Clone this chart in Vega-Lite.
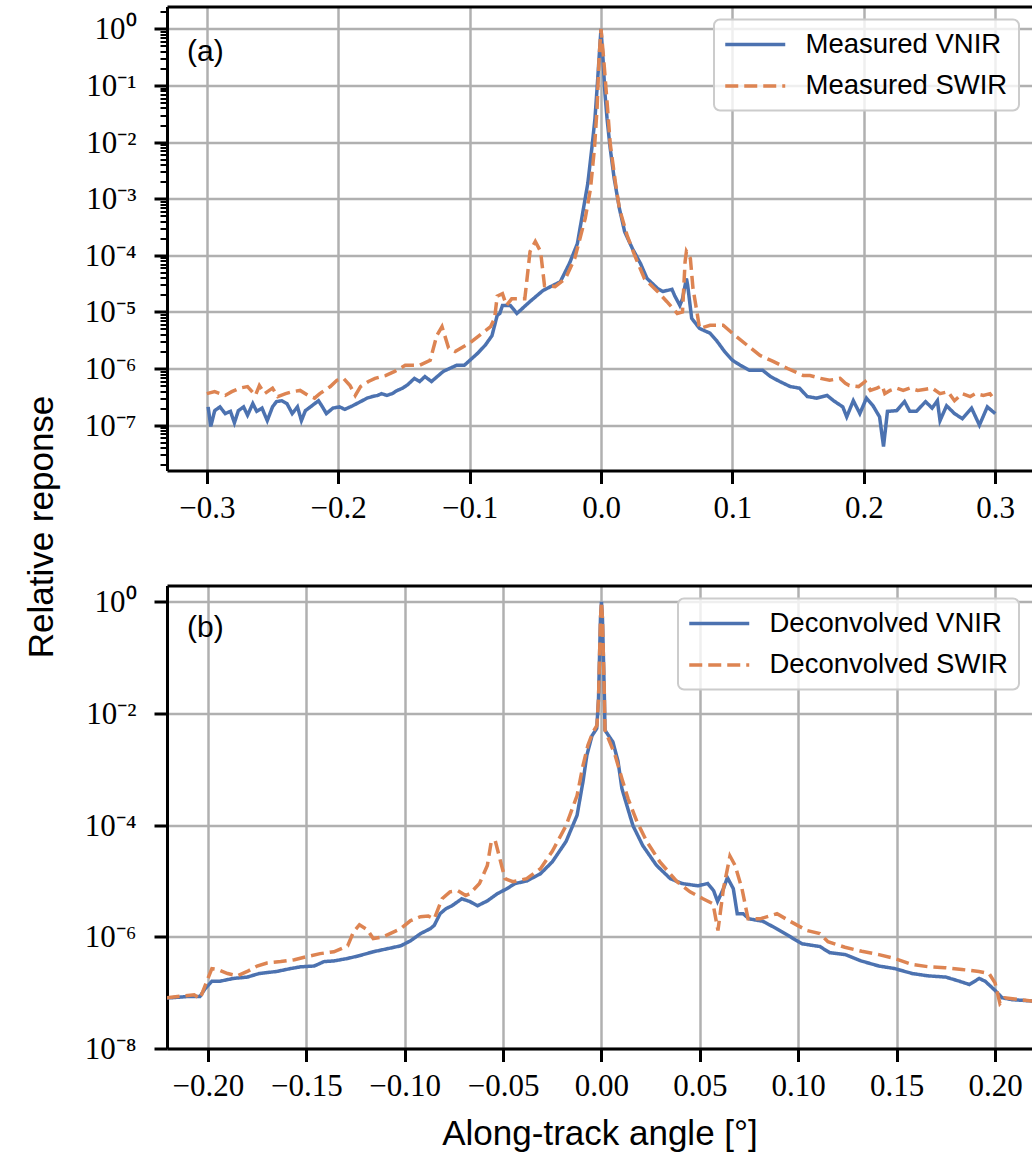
{
 "$schema": "https://vega.github.io/schema/vega-lite/v6.json",
 "padding": {"left": 24, "top": 6.5, "right": 0, "bottom": 0},
 "autosize": {"type": "pad"},
 "bounds": "flush",
 "spacing": 115,
 "background": "white",
 "datasets": {
  "top": [
   {"s":"Measured VNIR","x":-0.299,"v":2.1e-7},{"s":"Measured VNIR","x":-0.297,"v":9.5e-8},{"s":"Measured VNIR","x":-0.294,"v":1.8e-7},{"s":"Measured VNIR","x":-0.290,"v":2.1e-7},{"s":"Measured VNIR","x":-0.286,"v":1.6e-7},{"s":"Measured VNIR","x":-0.282,"v":1.75e-7},{"s":"Measured VNIR","x":-0.279,"v":1.1e-7},{"s":"Measured VNIR","x":-0.276,"v":1.8e-7},{"s":"Measured VNIR","x":-0.272,"v":2.1e-7},{"s":"Measured VNIR","x":-0.269,"v":1.5e-7},{"s":"Measured VNIR","x":-0.265,"v":2.4e-7},{"s":"Measured VNIR","x":-0.262,"v":1.75e-7},{"s":"Measured VNIR","x":-0.258,"v":2.0e-7},{"s":"Measured VNIR","x":-0.254,"v":1.2e-7},{"s":"Measured VNIR","x":-0.250,"v":2.1e-7},{"s":"Measured VNIR","x":-0.247,"v":2.6e-7},{"s":"Measured VNIR","x":-0.243,"v":2.7e-7},{"s":"Measured VNIR","x":-0.239,"v":2.4e-7},{"s":"Measured VNIR","x":-0.235,"v":1.6e-7},{"s":"Measured VNIR","x":-0.231,"v":2.1e-7},{"s":"Measured VNIR","x":-0.228,"v":1.2e-7},{"s":"Measured VNIR","x":-0.225,"v":1.8e-7},{"s":"Measured VNIR","x":-0.220,"v":2.2e-7},{"s":"Measured VNIR","x":-0.215,"v":2.7e-7},{"s":"Measured VNIR","x":-0.212,"v":2.1e-7},{"s":"Measured VNIR","x":-0.209,"v":1.6e-7},{"s":"Measured VNIR","x":-0.204,"v":2.0e-7},{"s":"Measured VNIR","x":-0.199,"v":2.1e-7},{"s":"Measured VNIR","x":-0.195,"v":1.9e-7},{"s":"Measured VNIR","x":-0.189,"v":2.2e-7},{"s":"Measured VNIR","x":-0.183,"v":2.6e-7},{"s":"Measured VNIR","x":-0.178,"v":3.0e-7},{"s":"Measured VNIR","x":-0.174,"v":3.2e-7},{"s":"Measured VNIR","x":-0.170,"v":3.35e-7},{"s":"Measured VNIR","x":-0.167,"v":3.6e-7},{"s":"Measured VNIR","x":-0.163,"v":3.35e-7},{"s":"Measured VNIR","x":-0.159,"v":3.6e-7},{"s":"Measured VNIR","x":-0.155,"v":4.1e-7},{"s":"Measured VNIR","x":-0.151,"v":4.5e-7},{"s":"Measured VNIR","x":-0.147,"v":5.2e-7},{"s":"Measured VNIR","x":-0.142,"v":6.7e-7},{"s":"Measured VNIR","x":-0.138,"v":5.9e-7},{"s":"Measured VNIR","x":-0.134,"v":7.2e-7},{"s":"Measured VNIR","x":-0.129,"v":5.9e-7},{"s":"Measured VNIR","x":-0.120,"v":8.9e-7},{"s":"Measured VNIR","x":-0.110,"v":1.14e-6},{"s":"Measured VNIR","x":-0.104,"v":1.14e-6},{"s":"Measured VNIR","x":-0.094,"v":1.85e-6},{"s":"Measured VNIR","x":-0.088,"v":2.6e-6},{"s":"Measured VNIR","x":-0.083,"v":3.8e-6},{"s":"Measured VNIR","x":-0.079,"v":8.7e-6},{"s":"Measured VNIR","x":-0.077,"v":9.4e-6},{"s":"Measured VNIR","x":-0.075,"v":1.3e-5},{"s":"Measured VNIR","x":-0.069,"v":1.3e-5},{"s":"Measured VNIR","x":-0.064,"v":9.4e-6},{"s":"Measured VNIR","x":-0.054,"v":1.53e-5},{"s":"Measured VNIR","x":-0.044,"v":2.4e-5},{"s":"Measured VNIR","x":-0.037,"v":2.9e-5},{"s":"Measured VNIR","x":-0.031,"v":3.4e-5},{"s":"Measured VNIR","x":-0.024,"v":7.2e-5},{"s":"Measured VNIR","x":-0.018,"v":1.6e-4},{"s":"Measured VNIR","x":-0.014,"v":5.5e-4},{"s":"Measured VNIR","x":-0.010,"v":1.9e-3},{"s":"Measured VNIR","x":-0.007,"v":7.7e-3},{"s":"Measured VNIR","x":-0.0046,"v":2.6e-2},{"s":"Measured VNIR","x":-0.003,"v":8.8e-2},{"s":"Measured VNIR","x":-0.0015,"v":0.3},{"s":"Measured VNIR","x":0,"v":1.0},{"s":"Measured VNIR","x":0.0015,"v":0.3},{"s":"Measured VNIR","x":0.003,"v":7.2e-2},{"s":"Measured VNIR","x":0.0046,"v":2.6e-2},{"s":"Measured VNIR","x":0.007,"v":7.7e-3},{"s":"Measured VNIR","x":0.010,"v":2.3e-3},{"s":"Measured VNIR","x":0.014,"v":6.7e-4},{"s":"Measured VNIR","x":0.018,"v":2.6e-4},{"s":"Measured VNIR","x":0.024,"v":1.3e-4},{"s":"Measured VNIR","x":0.030,"v":7.2e-5},{"s":"Measured VNIR","x":0.035,"v":3.9e-5},{"s":"Measured VNIR","x":0.043,"v":2.6e-5},{"s":"Measured VNIR","x":0.047,"v":2.3e-5},{"s":"Measured VNIR","x":0.054,"v":2.5e-5},{"s":"Measured VNIR","x":0.056,"v":1.95e-5},{"s":"Measured VNIR","x":0.060,"v":1.3e-5},{"s":"Measured VNIR","x":0.062,"v":1.7e-5},{"s":"Measured VNIR","x":0.065,"v":3.9e-5},{"s":"Measured VNIR","x":0.066,"v":2.9e-5},{"s":"Measured VNIR","x":0.069,"v":7.7e-6},{"s":"Measured VNIR","x":0.075,"v":5.1e-6},{"s":"Measured VNIR","x":0.083,"v":4.2e-6},{"s":"Measured VNIR","x":0.088,"v":3.1e-6},{"s":"Measured VNIR","x":0.094,"v":2.0e-6},{"s":"Measured VNIR","x":0.100,"v":1.4e-6},{"s":"Measured VNIR","x":0.106,"v":1.14e-6},{"s":"Measured VNIR","x":0.113,"v":9.3e-7},{"s":"Measured VNIR","x":0.123,"v":9.3e-7},{"s":"Measured VNIR","x":0.129,"v":7.2e-7},{"s":"Measured VNIR","x":0.136,"v":5.9e-7},{"s":"Measured VNIR","x":0.144,"v":4.8e-7},{"s":"Measured VNIR","x":0.151,"v":4.5e-7},{"s":"Measured VNIR","x":0.157,"v":3.2e-7},{"s":"Measured VNIR","x":0.164,"v":3.0e-7},{"s":"Measured VNIR","x":0.172,"v":3.35e-7},{"s":"Measured VNIR","x":0.177,"v":2.7e-7},{"s":"Measured VNIR","x":0.184,"v":2.1e-7},{"s":"Measured VNIR","x":0.187,"v":1.4e-7},{"s":"Measured VNIR","x":0.192,"v":2.7e-7},{"s":"Measured VNIR","x":0.197,"v":1.6e-7},{"s":"Measured VNIR","x":0.202,"v":3.0e-7},{"s":"Measured VNIR","x":0.207,"v":2.2e-7},{"s":"Measured VNIR","x":0.212,"v":1.4e-7},{"s":"Measured VNIR","x":0.215,"v":4.2e-8},{"s":"Measured VNIR","x":0.218,"v":1.75e-7},{"s":"Measured VNIR","x":0.225,"v":1.8e-7},{"s":"Measured VNIR","x":0.231,"v":2.6e-7},{"s":"Measured VNIR","x":0.235,"v":1.75e-7},{"s":"Measured VNIR","x":0.240,"v":1.75e-7},{"s":"Measured VNIR","x":0.247,"v":2.6e-7},{"s":"Measured VNIR","x":0.252,"v":2.0e-7},{"s":"Measured VNIR","x":0.256,"v":2.7e-7},{"s":"Measured VNIR","x":0.258,"v":1.2e-7},{"s":"Measured VNIR","x":0.263,"v":2.2e-7},{"s":"Measured VNIR","x":0.269,"v":1.6e-7},{"s":"Measured VNIR","x":0.275,"v":1.3e-7},{"s":"Measured VNIR","x":0.282,"v":2.0e-7},{"s":"Measured VNIR","x":0.288,"v":1.0e-7},{"s":"Measured VNIR","x":0.294,"v":2.1e-7},{"s":"Measured VNIR","x":0.298,"v":1.75e-7},{"s":"Measured VNIR","x":0.300,"v":1.6e-7},
   {"s":"Measured SWIR","x":-0.300,"v":3.6e-7},{"s":"Measured SWIR","x":-0.294,"v":3.9e-7},{"s":"Measured SWIR","x":-0.286,"v":3.35e-7},{"s":"Measured SWIR","x":-0.281,"v":3.9e-7},{"s":"Measured SWIR","x":-0.275,"v":4.5e-7},{"s":"Measured SWIR","x":-0.269,"v":4.8e-7},{"s":"Measured SWIR","x":-0.263,"v":3.35e-7},{"s":"Measured SWIR","x":-0.260,"v":5.0e-7},{"s":"Measured SWIR","x":-0.256,"v":3.6e-7},{"s":"Measured SWIR","x":-0.250,"v":4.5e-7},{"s":"Measured SWIR","x":-0.246,"v":3.2e-7},{"s":"Measured SWIR","x":-0.240,"v":3.6e-7},{"s":"Measured SWIR","x":-0.235,"v":3.9e-7},{"s":"Measured SWIR","x":-0.229,"v":4.1e-7},{"s":"Measured SWIR","x":-0.223,"v":3.35e-7},{"s":"Measured SWIR","x":-0.218,"v":3.0e-7},{"s":"Measured SWIR","x":-0.214,"v":3.6e-7},{"s":"Measured SWIR","x":-0.206,"v":4.8e-7},{"s":"Measured SWIR","x":-0.201,"v":6.2e-7},{"s":"Measured SWIR","x":-0.196,"v":6.7e-7},{"s":"Measured SWIR","x":-0.191,"v":5.0e-7},{"s":"Measured SWIR","x":-0.187,"v":3.35e-7},{"s":"Measured SWIR","x":-0.183,"v":4.8e-7},{"s":"Measured SWIR","x":-0.177,"v":5.9e-7},{"s":"Measured SWIR","x":-0.172,"v":6.7e-7},{"s":"Measured SWIR","x":-0.164,"v":7.5e-7},{"s":"Measured SWIR","x":-0.157,"v":8.9e-7},{"s":"Measured SWIR","x":-0.149,"v":1.14e-6},{"s":"Measured SWIR","x":-0.138,"v":1.14e-6},{"s":"Measured SWIR","x":-0.130,"v":1.4e-6},{"s":"Measured SWIR","x":-0.125,"v":3.8e-6},{"s":"Measured SWIR","x":-0.121,"v":5.5e-6},{"s":"Measured SWIR","x":-0.116,"v":2.3e-6},{"s":"Measured SWIR","x":-0.111,"v":2.0e-6},{"s":"Measured SWIR","x":-0.100,"v":2.8e-6},{"s":"Measured SWIR","x":-0.084,"v":5.5e-6},{"s":"Measured SWIR","x":-0.081,"v":7.7e-6},{"s":"Measured SWIR","x":-0.079,"v":1.9e-5},{"s":"Measured SWIR","x":-0.075,"v":2.1e-5},{"s":"Measured SWIR","x":-0.072,"v":1.3e-5},{"s":"Measured SWIR","x":-0.068,"v":1.7e-5},{"s":"Measured SWIR","x":-0.058,"v":1.7e-5},{"s":"Measured SWIR","x":-0.054,"v":1.17e-4},{"s":"Measured SWIR","x":-0.050,"v":1.75e-4},{"s":"Measured SWIR","x":-0.046,"v":1.17e-4},{"s":"Measured SWIR","x":-0.043,"v":2.9e-5},{"s":"Measured SWIR","x":-0.035,"v":2.8e-5},{"s":"Measured SWIR","x":-0.027,"v":3.9e-5},{"s":"Measured SWIR","x":-0.020,"v":8.8e-5},{"s":"Measured SWIR","x":-0.012,"v":4.5e-4},{"s":"Measured SWIR","x":-0.008,"v":1.5e-3},{"s":"Measured SWIR","x":-0.005,"v":7.7e-3},{"s":"Measured SWIR","x":-0.003,"v":3.9e-2},{"s":"Measured SWIR","x":-0.0015,"v":0.3},{"s":"Measured SWIR","x":0,"v":1.0},{"s":"Measured SWIR","x":0.002,"v":0.3},{"s":"Measured SWIR","x":0.005,"v":3.9e-2},{"s":"Measured SWIR","x":0.007,"v":9.4e-3},{"s":"Measured SWIR","x":0.011,"v":1.9e-3},{"s":"Measured SWIR","x":0.014,"v":6.7e-4},{"s":"Measured SWIR","x":0.020,"v":2.2e-4},{"s":"Measured SWIR","x":0.026,"v":9.5e-5},{"s":"Measured SWIR","x":0.033,"v":3.9e-5},{"s":"Measured SWIR","x":0.043,"v":2.3e-5},{"s":"Measured SWIR","x":0.050,"v":1.53e-5},{"s":"Measured SWIR","x":0.058,"v":9.4e-6},{"s":"Measured SWIR","x":0.062,"v":1.0e-5},{"s":"Measured SWIR","x":0.064,"v":7.8e-5},{"s":"Measured SWIR","x":0.065,"v":1.17e-4},{"s":"Measured SWIR","x":0.068,"v":8.8e-5},{"s":"Measured SWIR","x":0.070,"v":2.6e-5},{"s":"Measured SWIR","x":0.073,"v":1.0e-5},{"s":"Measured SWIR","x":0.075,"v":5.1e-6},{"s":"Measured SWIR","x":0.083,"v":5.8e-6},{"s":"Measured SWIR","x":0.093,"v":5.8e-6},{"s":"Measured SWIR","x":0.100,"v":4.2e-6},{"s":"Measured SWIR","x":0.111,"v":2.6e-6},{"s":"Measured SWIR","x":0.121,"v":1.7e-6},{"s":"Measured SWIR","x":0.131,"v":1.34e-6},{"s":"Measured SWIR","x":0.142,"v":1.0e-6},{"s":"Measured SWIR","x":0.154,"v":7.5e-7},{"s":"Measured SWIR","x":0.159,"v":7.5e-7},{"s":"Measured SWIR","x":0.167,"v":6.7e-7},{"s":"Measured SWIR","x":0.174,"v":6.2e-7},{"s":"Measured SWIR","x":0.182,"v":6.7e-7},{"s":"Measured SWIR","x":0.186,"v":5.5e-7},{"s":"Measured SWIR","x":0.189,"v":5.0e-7},{"s":"Measured SWIR","x":0.196,"v":4.8e-7},{"s":"Measured SWIR","x":0.201,"v":5.9e-7},{"s":"Measured SWIR","x":0.205,"v":4.1e-7},{"s":"Measured SWIR","x":0.210,"v":4.5e-7},{"s":"Measured SWIR","x":0.214,"v":5.0e-7},{"s":"Measured SWIR","x":0.216,"v":3.6e-7},{"s":"Measured SWIR","x":0.220,"v":4.1e-7},{"s":"Measured SWIR","x":0.225,"v":4.5e-7},{"s":"Measured SWIR","x":0.230,"v":4.1e-7},{"s":"Measured SWIR","x":0.235,"v":4.5e-7},{"s":"Measured SWIR","x":0.241,"v":4.1e-7},{"s":"Measured SWIR","x":0.247,"v":4.3e-7},{"s":"Measured SWIR","x":0.252,"v":4.5e-7},{"s":"Measured SWIR","x":0.258,"v":3.6e-7},{"s":"Measured SWIR","x":0.264,"v":3.9e-7},{"s":"Measured SWIR","x":0.269,"v":2.7e-7},{"s":"Measured SWIR","x":0.275,"v":3.6e-7},{"s":"Measured SWIR","x":0.281,"v":3.2e-7},{"s":"Measured SWIR","x":0.285,"v":3.6e-7},{"s":"Measured SWIR","x":0.291,"v":3.35e-7},{"s":"Measured SWIR","x":0.296,"v":3.6e-7},{"s":"Measured SWIR","x":0.300,"v":2.7e-7}
  ],
  "bot": [
   {"s":"Deconvolved VNIR","x":-0.221,"v":8.0e-8},{"s":"Deconvolved VNIR","x":-0.2107,"v":8.5e-8},{"s":"Deconvolved VNIR","x":-0.2041,"v":8.5e-8},{"s":"Deconvolved VNIR","x":-0.2015,"v":1.17e-7},{"s":"Deconvolved VNIR","x":-0.198,"v":1.6e-7},{"s":"Deconvolved VNIR","x":-0.194,"v":1.6e-7},{"s":"Deconvolved VNIR","x":-0.187,"v":1.8e-7},{"s":"Deconvolved VNIR","x":-0.180,"v":1.9e-7},{"s":"Deconvolved VNIR","x":-0.174,"v":2.2e-7},{"s":"Deconvolved VNIR","x":-0.165,"v":2.4e-7},{"s":"Deconvolved VNIR","x":-0.158,"v":2.7e-7},{"s":"Deconvolved VNIR","x":-0.153,"v":2.9e-7},{"s":"Deconvolved VNIR","x":-0.146,"v":3.0e-7},{"s":"Deconvolved VNIR","x":-0.141,"v":3.6e-7},{"s":"Deconvolved VNIR","x":-0.136,"v":3.7e-7},{"s":"Deconvolved VNIR","x":-0.129,"v":4.1e-7},{"s":"Deconvolved VNIR","x":-0.123,"v":4.6e-7},{"s":"Deconvolved VNIR","x":-0.116,"v":5.4e-7},{"s":"Deconvolved VNIR","x":-0.109,"v":6.1e-7},{"s":"Deconvolved VNIR","x":-0.102,"v":6.9e-7},{"s":"Deconvolved VNIR","x":-0.097,"v":8.5e-7},{"s":"Deconvolved VNIR","x":-0.092,"v":1.14e-6},{"s":"Deconvolved VNIR","x":-0.087,"v":1.4e-6},{"s":"Deconvolved VNIR","x":-0.085,"v":1.6e-6},{"s":"Deconvolved VNIR","x":-0.082,"v":2.6e-6},{"s":"Deconvolved VNIR","x":-0.079,"v":3.2e-6},{"s":"Deconvolved VNIR","x":-0.076,"v":3.6e-6},{"s":"Deconvolved VNIR","x":-0.071,"v":4.8e-6},{"s":"Deconvolved VNIR","x":-0.067,"v":4.3e-6},{"s":"Deconvolved VNIR","x":-0.063,"v":3.6e-6},{"s":"Deconvolved VNIR","x":-0.058,"v":4.4e-6},{"s":"Deconvolved VNIR","x":-0.053,"v":5.9e-6},{"s":"Deconvolved VNIR","x":-0.048,"v":7.3e-6},{"s":"Deconvolved VNIR","x":-0.044,"v":9.0e-6},{"s":"Deconvolved VNIR","x":-0.038,"v":1.0e-5},{"s":"Deconvolved VNIR","x":-0.031,"v":1.35e-5},{"s":"Deconvolved VNIR","x":-0.025,"v":2.2e-5},{"s":"Deconvolved VNIR","x":-0.018,"v":5.1e-5},{"s":"Deconvolved VNIR","x":-0.0124,"v":1.5e-4},{"s":"Deconvolved VNIR","x":-0.0094,"v":6.0e-4},{"s":"Deconvolved VNIR","x":-0.0074,"v":1.8e-3},{"s":"Deconvolved VNIR","x":-0.0048,"v":4.0e-3},{"s":"Deconvolved VNIR","x":-0.0024,"v":5.4e-3},{"s":"Deconvolved VNIR","x":-0.0015,"v":1.85e-2},{"s":"Deconvolved VNIR","x":-0.001,"v":0.1},{"s":"Deconvolved VNIR","x":-0.0005,"v":0.5},{"s":"Deconvolved VNIR","x":0,"v":1.0},{"s":"Deconvolved VNIR","x":0.0005,"v":0.5},{"s":"Deconvolved VNIR","x":0.001,"v":0.1},{"s":"Deconvolved VNIR","x":0.0015,"v":1.85e-2},{"s":"Deconvolved VNIR","x":0.0018,"v":5.0e-3},{"s":"Deconvolved VNIR","x":0.0058,"v":3.1e-3},{"s":"Deconvolved VNIR","x":0.0084,"v":1.4e-3},{"s":"Deconvolved VNIR","x":0.0104,"v":4.5e-4},{"s":"Deconvolved VNIR","x":0.013,"v":2.2e-4},{"s":"Deconvolved VNIR","x":0.016,"v":9.8e-5},{"s":"Deconvolved VNIR","x":0.021,"v":4.3e-5},{"s":"Deconvolved VNIR","x":0.028,"v":1.9e-5},{"s":"Deconvolved VNIR","x":0.035,"v":1.1e-5},{"s":"Deconvolved VNIR","x":0.041,"v":9.0e-6},{"s":"Deconvolved VNIR","x":0.049,"v":8.2e-6},{"s":"Deconvolved VNIR","x":0.054,"v":9.0e-6},{"s":"Deconvolved VNIR","x":0.057,"v":6.7e-6},{"s":"Deconvolved VNIR","x":0.059,"v":4.3e-6},{"s":"Deconvolved VNIR","x":0.062,"v":7.3e-6},{"s":"Deconvolved VNIR","x":0.064,"v":1.15e-5},{"s":"Deconvolved VNIR","x":0.067,"v":7.3e-6},{"s":"Deconvolved VNIR","x":0.069,"v":2.6e-6},{"s":"Deconvolved VNIR","x":0.072,"v":2.6e-6},{"s":"Deconvolved VNIR","x":0.075,"v":2.1e-6},{"s":"Deconvolved VNIR","x":0.082,"v":1.9e-6},{"s":"Deconvolved VNIR","x":0.089,"v":1.4e-6},{"s":"Deconvolved VNIR","x":0.096,"v":1.0e-6},{"s":"Deconvolved VNIR","x":0.102,"v":7.5e-7},{"s":"Deconvolved VNIR","x":0.111,"v":6.7e-7},{"s":"Deconvolved VNIR","x":0.116,"v":5.2e-7},{"s":"Deconvolved VNIR","x":0.124,"v":4.8e-7},{"s":"Deconvolved VNIR","x":0.132,"v":3.7e-7},{"s":"Deconvolved VNIR","x":0.141,"v":3.0e-7},{"s":"Deconvolved VNIR","x":0.149,"v":2.7e-7},{"s":"Deconvolved VNIR","x":0.158,"v":2.2e-7},{"s":"Deconvolved VNIR","x":0.166,"v":2.0e-7},{"s":"Deconvolved VNIR","x":0.175,"v":1.9e-7},{"s":"Deconvolved VNIR","x":0.182,"v":1.6e-7},{"s":"Deconvolved VNIR","x":0.187,"v":1.4e-7},{"s":"Deconvolved VNIR","x":0.192,"v":1.8e-7},{"s":"Deconvolved VNIR","x":0.195,"v":1.6e-7},{"s":"Deconvolved VNIR","x":0.200,"v":1.1e-7},{"s":"Deconvolved VNIR","x":0.2036,"v":8.1e-8},{"s":"Deconvolved VNIR","x":0.2086,"v":7.5e-8},{"s":"Deconvolved VNIR","x":0.221,"v":7.0e-8},
   {"s":"Deconvolved SWIR","x":-0.221,"v":8.1e-8},{"s":"Deconvolved SWIR","x":-0.212,"v":8.8e-8},{"s":"Deconvolved SWIR","x":-0.207,"v":9.2e-8},{"s":"Deconvolved SWIR","x":-0.204,"v":7.8e-8},{"s":"Deconvolved SWIR","x":-0.200,"v":1.8e-7},{"s":"Deconvolved SWIR","x":-0.198,"v":2.7e-7},{"s":"Deconvolved SWIR","x":-0.195,"v":2.6e-7},{"s":"Deconvolved SWIR","x":-0.190,"v":2.2e-7},{"s":"Deconvolved SWIR","x":-0.185,"v":2.0e-7},{"s":"Deconvolved SWIR","x":-0.180,"v":2.4e-7},{"s":"Deconvolved SWIR","x":-0.175,"v":3.0e-7},{"s":"Deconvolved SWIR","x":-0.170,"v":3.4e-7},{"s":"Deconvolved SWIR","x":-0.163,"v":3.6e-7},{"s":"Deconvolved SWIR","x":-0.156,"v":3.9e-7},{"s":"Deconvolved SWIR","x":-0.150,"v":4.4e-7},{"s":"Deconvolved SWIR","x":-0.143,"v":5.0e-7},{"s":"Deconvolved SWIR","x":-0.136,"v":5.4e-7},{"s":"Deconvolved SWIR","x":-0.129,"v":6.9e-7},{"s":"Deconvolved SWIR","x":-0.126,"v":1.23e-6},{"s":"Deconvolved SWIR","x":-0.123,"v":1.65e-6},{"s":"Deconvolved SWIR","x":-0.119,"v":1.34e-6},{"s":"Deconvolved SWIR","x":-0.116,"v":9.3e-7},{"s":"Deconvolved SWIR","x":-0.111,"v":1.0e-6},{"s":"Deconvolved SWIR","x":-0.102,"v":1.4e-6},{"s":"Deconvolved SWIR","x":-0.097,"v":1.95e-6},{"s":"Deconvolved SWIR","x":-0.092,"v":2.3e-6},{"s":"Deconvolved SWIR","x":-0.088,"v":2.35e-6},{"s":"Deconvolved SWIR","x":-0.085,"v":2.1e-6},{"s":"Deconvolved SWIR","x":-0.081,"v":4.8e-6},{"s":"Deconvolved SWIR","x":-0.077,"v":6.4e-6},{"s":"Deconvolved SWIR","x":-0.073,"v":6.7e-6},{"s":"Deconvolved SWIR","x":-0.069,"v":5.5e-6},{"s":"Deconvolved SWIR","x":-0.067,"v":5.9e-6},{"s":"Deconvolved SWIR","x":-0.062,"v":9.0e-6},{"s":"Deconvolved SWIR","x":-0.058,"v":1.9e-5},{"s":"Deconvolved SWIR","x":-0.056,"v":5.1e-5},{"s":"Deconvolved SWIR","x":-0.054,"v":5.3e-5},{"s":"Deconvolved SWIR","x":-0.052,"v":2.8e-5},{"s":"Deconvolved SWIR","x":-0.049,"v":1.1e-5},{"s":"Deconvolved SWIR","x":-0.045,"v":9.7e-6},{"s":"Deconvolved SWIR","x":-0.038,"v":1.1e-5},{"s":"Deconvolved SWIR","x":-0.031,"v":1.66e-5},{"s":"Deconvolved SWIR","x":-0.025,"v":3.4e-5},{"s":"Deconvolved SWIR","x":-0.018,"v":9.8e-5},{"s":"Deconvolved SWIR","x":-0.0124,"v":3.4e-4},{"s":"Deconvolved SWIR","x":-0.0094,"v":1.16e-3},{"s":"Deconvolved SWIR","x":-0.0069,"v":2.7e-3},{"s":"Deconvolved SWIR","x":-0.0043,"v":4.7e-3},{"s":"Deconvolved SWIR","x":-0.0023,"v":6.1e-3},{"s":"Deconvolved SWIR","x":-0.0015,"v":1.85e-2},{"s":"Deconvolved SWIR","x":-0.001,"v":0.1},{"s":"Deconvolved SWIR","x":-0.0005,"v":0.5},{"s":"Deconvolved SWIR","x":0,"v":1.0},{"s":"Deconvolved SWIR","x":0.0005,"v":0.5},{"s":"Deconvolved SWIR","x":0.001,"v":0.1},{"s":"Deconvolved SWIR","x":0.0015,"v":1.85e-2},{"s":"Deconvolved SWIR","x":0.0018,"v":5.0e-3},{"s":"Deconvolved SWIR","x":0.0069,"v":1.8e-3},{"s":"Deconvolved SWIR","x":0.0104,"v":6.8e-4},{"s":"Deconvolved SWIR","x":0.0135,"v":3.0e-4},{"s":"Deconvolved SWIR","x":0.018,"v":1.16e-4},{"s":"Deconvolved SWIR","x":0.023,"v":5.1e-5},{"s":"Deconvolved SWIR","x":0.0297,"v":2.2e-5},{"s":"Deconvolved SWIR","x":0.0384,"v":9.7e-6},{"s":"Deconvolved SWIR","x":0.045,"v":6.4e-6},{"s":"Deconvolved SWIR","x":0.0516,"v":4.8e-6},{"s":"Deconvolved SWIR","x":0.0567,"v":3.9e-6},{"s":"Deconvolved SWIR","x":0.0592,"v":1.3e-6},{"s":"Deconvolved SWIR","x":0.062,"v":7.3e-6},{"s":"Deconvolved SWIR","x":0.0653,"v":2.8e-5},{"s":"Deconvolved SWIR","x":0.0679,"v":1.9e-5},{"s":"Deconvolved SWIR","x":0.0714,"v":7.3e-6},{"s":"Deconvolved SWIR","x":0.0745,"v":2.1e-6},{"s":"Deconvolved SWIR","x":0.0806,"v":2.1e-6},{"s":"Deconvolved SWIR","x":0.0892,"v":2.6e-6},{"s":"Deconvolved SWIR","x":0.0958,"v":1.9e-6},{"s":"Deconvolved SWIR","x":0.1044,"v":1.3e-6},{"s":"Deconvolved SWIR","x":0.111,"v":1.14e-6},{"s":"Deconvolved SWIR","x":0.1151,"v":8.2e-7},{"s":"Deconvolved SWIR","x":0.1237,"v":6.5e-7},{"s":"Deconvolved SWIR","x":0.1323,"v":5.5e-7},{"s":"Deconvolved SWIR","x":0.141,"v":4.8e-7},{"s":"Deconvolved SWIR","x":0.1491,"v":4.1e-7},{"s":"Deconvolved SWIR","x":0.1577,"v":3.2e-7},{"s":"Deconvolved SWIR","x":0.1664,"v":2.9e-7},{"s":"Deconvolved SWIR","x":0.1745,"v":2.8e-7},{"s":"Deconvolved SWIR","x":0.1832,"v":2.6e-7},{"s":"Deconvolved SWIR","x":0.1918,"v":2.4e-7},{"s":"Deconvolved SWIR","x":0.197,"v":2.2e-7},{"s":"Deconvolved SWIR","x":0.200,"v":1.5e-7},{"s":"Deconvolved SWIR","x":0.2025,"v":6.4e-8},{"s":"Deconvolved SWIR","x":0.205,"v":8.1e-8},{"s":"Deconvolved SWIR","x":0.2122,"v":7.5e-8},{"s":"Deconvolved SWIR","x":0.221,"v":7.0e-8}
  ]
 },
 "vconcat": [
  {
   "width": 865, "height": 464,
   "title": {"text": "(a)", "anchor": "start", "frame": "group", "orient": "top", "offset": 0, "dx": 20, "dy": 75.5, "baseline": "middle", "fontSize": 30, "fontWeight": "normal", "font": "Liberation Sans", "color": "black"},
   "resolve": {"axis": {"x": "independent", "y": "independent"}},
   "layer": [
    {
     "data": {"name": "top"},
     "mark": {"type": "line", "clip": true, "strokeWidth": 3.5},
     "encoding": {
      "x": {"field": "x", "type": "quantitative", "scale": {"domain": [-0.3303, 0.328], "nice": false, "zero": false},
            "axis": {"orient": "bottom", "values": [-0.3, -0.2, -0.1, 0, 0.1, 0.2, 0.3], "format": ".1f", "title": null}},
      "y": {"field": "v", "type": "quantitative", "scale": {"type": "log", "domain": [1.58e-8, 2.48], "nice": false},
            "axis": {"orient": "left", "values": [1, 0.1, 0.01, 0.001, 0.0001, 1e-5, 1e-6, 1e-7],
                     "labelExpr": "['10⁰','10⁻¹','10⁻²','10⁻³','10⁻⁴','10⁻⁵','10⁻⁶','10⁻⁷','10⁻⁸'][round(-log(datum.value)/LN10)]",
                     "title": "Relative reponse", "titleX": -115, "titleY": 520, "titleBaseline": "alphabetic", "titleAngle": -90, "titleAlign": "center"}},
      "color": {"field": "s", "type": "nominal", "scale": {"domain": ["Measured VNIR", "Measured SWIR"], "range": ["#4c72b0", "#dd8452"]}, "legend": {"title": null}},
      "strokeDash": {"field": "s", "type": "nominal", "scale": {"domain": ["Measured VNIR", "Measured SWIR"], "range": [[1, 0], [13, 6]]}, "legend": {"title": null}}
     }
    },
    {
     "data": {"name": "top"},
     "mark": {"type": "point", "opacity": 0},
     "encoding": {
      "x": {"field": "x", "type": "quantitative", "axis": {"orient": "top", "ticks": false, "labels": false, "grid": false, "title": null}},
      "y": {"field": "v", "type": "quantitative",
            "axis": {"orient": "left", "values": [2e-8,3e-8,4e-8,5e-8,6e-8,7e-8,8e-8,9e-8,2e-7,3e-7,4e-7,5e-7,6e-7,7e-7,8e-7,9e-7,2e-6,3e-6,4e-6,5e-6,6e-6,7e-6,8e-6,9e-6,2e-5,3e-5,4e-5,5e-5,6e-5,7e-5,8e-5,9e-5,2e-4,3e-4,4e-4,5e-4,6e-4,7e-4,8e-4,9e-4,2e-3,3e-3,4e-3,5e-3,6e-3,7e-3,8e-3,9e-3,0.02,0.03,0.04,0.05,0.06,0.07,0.08,0.09,0.2,0.3,0.4,0.5,0.6,0.7,0.8,0.9,2],
                     "tickSize": 7, "tickWidth": 2, "labels": false, "grid": false, "domain": false, "title": null}}
     }
    }
   ]
  },
  {
   "width": 865, "height": 463,
   "title": {"text": "(b)", "anchor": "start", "frame": "group", "orient": "top", "offset": 0, "dx": 20, "dy": 72.5, "baseline": "middle", "fontSize": 30, "fontWeight": "normal", "font": "Liberation Sans", "color": "black"},
   "resolve": {"axis": {"x": "independent", "y": "independent"}},
   "layer": [
    {
     "data": {"name": "bot"},
     "mark": {"type": "line", "clip": true, "strokeWidth": 3.5},
     "encoding": {
      "x": {"field": "x", "type": "quantitative", "scale": {"domain": [-0.2208, 0.2188], "nice": false, "zero": false},
            "axis": {"orient": "bottom", "values": [-0.2, -0.15, -0.1, -0.05, 0, 0.05, 0.1, 0.15, 0.2], "format": ".2f",
                     "title": "Along-track angle [°]", "titleY": 96, "titleBaseline": "alphabetic"}},
      "y": {"field": "v", "type": "quantitative", "scale": {"type": "log", "domain": [1e-8, 1.96], "nice": false},
            "axis": {"orient": "left", "values": [1, 0.01, 0.0001, 1e-6, 1e-8],
                     "labelExpr": "['10⁰','10⁻¹','10⁻²','10⁻³','10⁻⁴','10⁻⁵','10⁻⁶','10⁻⁷','10⁻⁸'][round(-log(datum.value)/LN10)]",
                     "title": null}},
      "color": {"field": "s", "type": "nominal", "scale": {"domain": ["Deconvolved VNIR", "Deconvolved SWIR"], "range": ["#4c72b0", "#dd8452"]}, "legend": {"title": null}},
      "strokeDash": {"field": "s", "type": "nominal", "scale": {"domain": ["Deconvolved VNIR", "Deconvolved SWIR"], "range": [[1, 0], [13, 6]]}, "legend": {"title": null}}
     }
    },
    {
     "data": {"name": "bot"},
     "mark": {"type": "point", "opacity": 0},
     "encoding": {
      "x": {"field": "x", "type": "quantitative", "axis": {"orient": "top", "ticks": false, "labels": false, "grid": false, "title": null}},
      "y": {"field": "v", "type": "quantitative", "axis": null}
     }
    }
   ]
  }
 ],
 "resolve": {"scale": {"color": "independent", "strokeDash": "independent"}, "legend": {"color": "independent", "strokeDash": "independent"}},
 "config": {
  "view": {"stroke": null},
  "axis": {"domainColor": "black", "domainWidth": 3, "tickColor": "black", "tickWidth": 3, "tickSize": 13,
           "labelFont": "Liberation Serif", "labelFontSize": 31, "labelColor": "black",
           "gridColor": "#b0b0b0", "gridWidth": 2.5, "gridOpacity": 1, "labelFlush": false, "labelOverlap": false,
           "titleFont": "Liberation Sans", "titleFontSize": 35, "titleFontWeight": "normal", "titleColor": "black"},
  "axisX": {"labelPadding": 10, "labelBaseline": "top"},
  "axisY": {"labelPadding": 18, "labelBaseline": "middle", "labelOffset": 1},
  "legend": {"orient": "top-right", "offset": 13, "padding": 11, "fillColor": "rgba(255,255,255,0.8)", "strokeColor": "#cccccc", "strokeWidth": 2, "cornerRadius": 6,
             "labelFont": "Liberation Sans", "labelFontSize": 27.5, "labelColor": "black", "symbolType": "M-2.5,0H2.5", "symbolSize": 576, "symbolStrokeWidth": 3.5,
             "symbolOffset": 16.25, "labelOffset": 36.25, "rowPadding": 13.5, "labelLimit": 500}
 }
}
